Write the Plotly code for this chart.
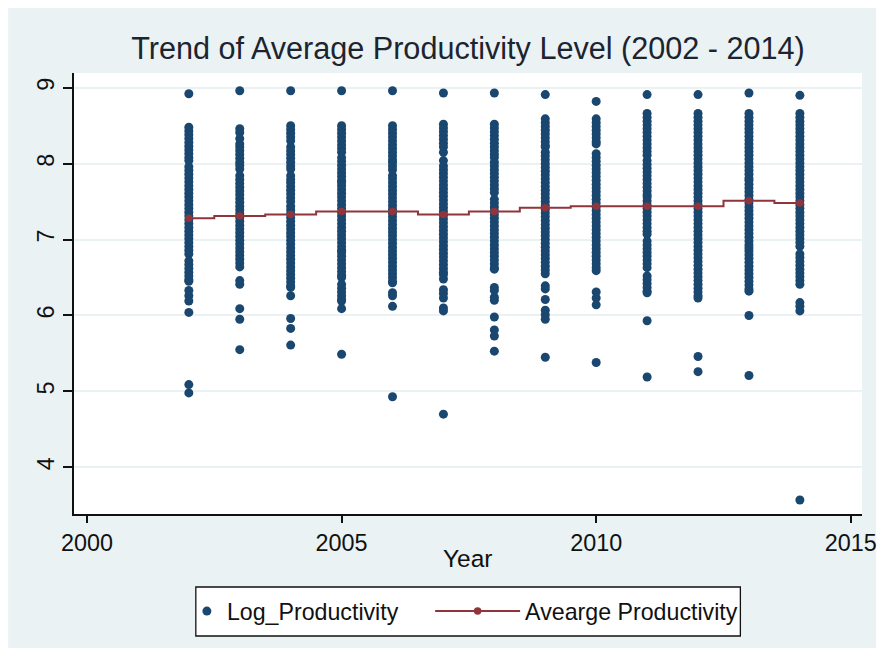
import plotly.graph_objects as go

years = [2002, 2003, 2004, 2005, 2006, 2007, 2008, 2009, 2010, 2011, 2012, 2013, 2014]

prod_2002 = [8.92,
             8.48, 8.43, 8.38, 8.33, 8.28, 8.23, 8.18, 8.13, 8.08, 8.04,
             7.96, 7.91, 7.86, 7.81, 7.76, 7.71, 7.66, 7.61, 7.56, 7.51, 7.46, 7.41, 7.36, 7.31,
             7.26, 7.21, 7.16, 7.11, 7.06, 7.01, 6.96, 6.91, 6.86, 6.81,
             6.72, 6.67, 6.62, 6.57, 6.52, 6.47, 6.45,
             6.33, 6.26, 6.19, 6.04, 5.09, 4.98]
prod_2003 = [8.96,
             8.46, 8.41, 8.33, 8.26,
             8.22, 8.17, 8.12, 8.07, 8.02, 7.98, 7.93,
             7.84, 7.79, 7.74, 7.69, 7.64, 7.59, 7.54, 7.49, 7.44, 7.39, 7.34, 7.29, 7.24, 7.19,
             7.14, 7.09, 7.04, 6.99, 6.94, 6.89, 6.84, 6.79, 6.74, 6.69, 6.64,
             6.46, 6.41, 6.09, 5.95, 5.55]
prod_2004 = [8.96,
             8.5, 8.45, 8.4, 8.35, 8.3,
             8.22, 8.17, 8.12, 8.07, 8.02, 7.97, 7.93,
             7.84, 7.79, 7.75,
             7.7, 7.65, 7.6, 7.55, 7.5,
             7.44, 7.39, 7.34, 7.29, 7.24, 7.19, 7.14, 7.09, 7.04, 6.99, 6.94, 6.89, 6.84, 6.79,
             6.74, 6.69, 6.64, 6.59, 6.54, 6.49, 6.44, 6.39, 6.37,
             6.26, 5.96, 5.83, 5.61]
prod_2005 = [8.96,
             8.5, 8.45, 8.4, 8.35, 8.3, 8.25, 8.2, 8.15,
             8.08, 8.03, 7.98, 7.93, 7.88, 7.83, 7.78, 7.75,
             7.71, 7.66, 7.61, 7.56, 7.51, 7.46, 7.41, 7.36, 7.31, 7.26, 7.21, 7.16, 7.11, 7.06,
             7.01, 6.96, 6.91, 6.86, 6.83,
             6.78, 6.73, 6.68, 6.63, 6.58, 6.53, 6.5,
             6.41, 6.36, 6.31, 6.26, 6.21, 6.19,
             6.09, 5.49]
prod_2006 = [8.96,
             8.5, 8.45, 8.4, 8.35, 8.3, 8.25, 8.2, 8.15, 8.1, 8.05, 8.02,
             7.97, 7.92, 7.84, 7.8,
             7.75, 7.7, 7.65, 7.6, 7.55, 7.5, 7.45, 7.4, 7.35, 7.3, 7.25, 7.2, 7.15, 7.1, 7.05,
             7.0, 6.95, 6.9, 6.85, 6.8, 6.75, 6.7, 6.65, 6.6, 6.55, 6.5, 6.45, 6.43,
             6.3, 6.26, 6.12, 4.93]
prod_2007 = [8.93,
             8.52, 8.47, 8.42, 8.37, 8.32, 8.27, 8.22,
             8.15, 8.04,
             7.97, 7.92, 7.87, 7.82, 7.77, 7.72, 7.67, 7.62, 7.57, 7.52, 7.47, 7.42, 7.37, 7.32,
             7.27, 7.22, 7.17, 7.12, 7.07, 7.02, 6.97, 6.92, 6.87, 6.82, 6.77, 6.72, 6.67, 6.62,
             6.57, 6.54,
             6.48, 6.34, 6.29, 6.23, 6.1, 6.06, 4.7]
prod_2008 = [8.93,
             8.52, 8.47, 8.42, 8.37, 8.32, 8.27, 8.22, 8.17, 8.12, 8.08,
             8.02, 7.97, 7.92, 7.87, 7.82, 7.77, 7.72, 7.67, 7.62,
             7.53, 7.48, 7.43, 7.38, 7.33, 7.28, 7.23, 7.18, 7.13, 7.08, 7.03, 6.98, 6.93, 6.88,
             6.83, 6.78, 6.73, 6.68, 6.63, 6.61,
             6.37, 6.33, 6.24, 6.2, 5.98, 5.81, 5.73, 5.53]
prod_2009 = [8.91,
             8.59, 8.54, 8.49, 8.44, 8.39, 8.34, 8.29, 8.24, 8.22,
             8.15, 8.1, 8.05, 8.0, 7.95, 7.9, 7.85, 7.8, 7.75, 7.7, 7.65, 7.6, 7.55, 7.5, 7.45,
             7.4, 7.35, 7.3, 7.25,
             7.2, 7.15, 7.1, 7.05, 7.0, 6.95, 6.9, 6.85, 6.8, 6.75, 6.7, 6.65, 6.6, 6.55,
             6.39, 6.35, 6.21, 6.07, 6.01, 5.95, 5.45]
prod_2010 = [8.82,
             8.59, 8.54, 8.49, 8.44, 8.39, 8.34, 8.29, 8.26,
             8.13, 8.08, 8.03, 7.98, 7.93, 7.88, 7.83, 7.78, 7.73, 7.68, 7.63, 7.58, 7.53, 7.48,
             7.43, 7.38, 7.33, 7.28, 7.23, 7.18, 7.13, 7.08, 7.03, 6.98, 6.93, 6.88, 6.83, 6.78,
             6.73, 6.68, 6.63, 6.59,
             6.31, 6.23, 6.14, 5.38]
prod_2011 = [8.91,
             8.66, 8.61, 8.56, 8.51, 8.46, 8.41, 8.36, 8.31, 8.26, 8.21, 8.16, 8.11,
             8.04, 7.99, 7.94, 7.89, 7.84, 7.79, 7.74, 7.69, 7.64, 7.59, 7.56,
             7.51, 7.46, 7.41, 7.36, 7.31, 7.26, 7.21, 7.16, 7.11, 7.07,
             6.98, 6.93, 6.88, 6.83, 6.78, 6.73, 6.68, 6.63,
             6.52, 6.47, 6.42, 6.37, 6.32, 6.3,
             5.93, 5.19]
prod_2012 = [8.91,
             8.66, 8.61, 8.56, 8.51, 8.46, 8.41, 8.36, 8.31, 8.26, 8.21, 8.16, 8.11, 8.06, 8.01,
             7.96, 7.91, 7.86, 7.81, 7.76, 7.71, 7.66, 7.61, 7.56, 7.51, 7.46, 7.41, 7.36, 7.31,
             7.26, 7.21, 7.16, 7.11, 7.06, 7.01, 6.96, 6.91, 6.86, 6.81, 6.76, 6.71, 6.66, 6.61,
             6.56, 6.51, 6.46, 6.41, 6.36, 6.31, 6.26, 6.23,
             5.46, 5.26]
prod_2013 = [8.93,
             8.66, 8.61, 8.56, 8.51, 8.46, 8.41, 8.36, 8.31, 8.26, 8.21, 8.16, 8.11, 8.06, 8.01,
             7.96, 7.91, 7.86, 7.81, 7.78,
             7.73, 7.68, 7.63, 7.58, 7.53, 7.48, 7.43, 7.38, 7.33, 7.28, 7.23, 7.18, 7.13, 7.08,
             7.03, 6.98, 6.93, 6.89,
             6.85, 6.8, 6.75, 6.7, 6.65, 6.6, 6.55, 6.5, 6.45, 6.4, 6.35, 6.32,
             6.0, 5.21]
prod_2014 = [8.9,
             8.66, 8.61, 8.56, 8.51, 8.46, 8.41, 8.36, 8.31, 8.26, 8.21, 8.16, 8.11, 8.06, 8.01,
             7.96, 7.91, 7.86, 7.81, 7.76, 7.71, 7.66, 7.61, 7.56, 7.51, 7.46, 7.41, 7.36, 7.31,
             7.26, 7.21, 7.16, 7.11, 7.06, 7.01, 6.96, 6.91,
             6.81, 6.76, 6.71, 6.66, 6.61, 6.56, 6.51, 6.46, 6.41,
             6.17, 6.12, 6.06, 3.57]

avg_productivity = [7.28, 7.31, 7.33, 7.37, 7.37, 7.33, 7.37, 7.42, 7.44, 7.44, 7.44, 7.51, 7.48]

x_ticks = [2000, 2005, 2010, 2015]
y_ticks = [4, 5, 6, 7, 8, 9]

per_year = [prod_2002, prod_2003, prod_2004, prod_2005, prod_2006, prod_2007, prod_2008,
            prod_2009, prod_2010, prod_2011, prod_2012, prod_2013, prod_2014]
xs, ys = [], []
for yr, vals in zip(years, per_year):
    xs += [yr] * len(vals)
    ys += vals

NAVY = "#1A476F"
CRAN = "#90353B"
BG = "#EAF2F3"
FONT = "Liberation Sans, Arial"
INK = "#111111"

# figure geometry (px) used to place decorations in paper coordinates
W, H = 881, 640
L, R, T, B = 66.3, 21, 65, 134
PW, PH = W - L - R, H - T - B


def px(xpix):
    return (xpix - L) / PW


def py(ypix):
    return (H - B - ypix) / PH


fig = go.Figure()
fig.add_trace(go.Scatter(x=xs, y=ys, mode="markers", name="Log_Productivity", legend="legend",
                         marker=dict(color=NAVY, size=9, line=dict(width=0))))
fig.add_trace(go.Scatter(x=years, y=avg_productivity, mode="lines+markers", name="Avearge Productivity",
                         legend="legend2",
                         line=dict(color=CRAN, width=2, shape="hvh"),
                         marker=dict(color=CRAN, size=7.5)))

# bluish graph region, white plot region, legend frame
fig.add_shape(type="rect", xref="paper", yref="paper", x0=px(0), x1=px(874), y0=py(640), y1=py(0),
              fillcolor=BG, line=dict(width=0), layer="below")
fig.add_shape(type="rect", xref="paper", yref="paper", x0=0, x1=1, y0=0, y1=1,
              fillcolor="white", line=dict(width=0), layer="below")
fig.add_shape(type="rect", xref="paper", yref="paper", x0=px(189), x1=px(737.5), y0=py(628), y1=py(579),
              fillcolor="white", line=dict(width=1.3, color=INK), layer="below")

fig.add_annotation(text="Year", xref="paper", yref="paper", x=0.5, y=py(550),
                   xanchor="center", yanchor="middle", showarrow=False,
                   font=dict(size=24.5, family=FONT, color=INK))

fig.update_layout(
    width=W, height=H,
    margin=dict(l=L, r=R, t=T, b=B),
    paper_bgcolor="white", plot_bgcolor="white",
    font=dict(family=FONT, color=INK),
    title=dict(text="Trend of Average Productivity Level (2002 - 2014)",
               x=0.5, xref="paper", xanchor="center", y=1 - 40 / H, yanchor="middle",
               font=dict(size=30.6, color="#1c2430", family=FONT)),
    showlegend=True,
    legend=dict(orientation="h", x=px(180), xanchor="left", xref="paper",
                y=py(603.5), yanchor="middle", bgcolor="rgba(0,0,0,0)", borderwidth=0,
                font=dict(size=23.2, family=FONT, color=INK), itemwidth=30),
    legend2=dict(orientation="h", x=px(425), xanchor="left", xref="paper",
                 y=py(603.5), yanchor="middle", bgcolor="rgba(0,0,0,0)", borderwidth=0,
                 font=dict(size=23.2, family=FONT, color=INK), itemwidth=85),
)
fig.update_xaxes(range=[1999.745, 2015.22], tickvals=x_ticks, ticks="outside", ticklen=7,
                 tickwidth=1.5, tickcolor=INK, showline=True, linecolor=INK,
                 linewidth=1.5, showgrid=False, zeroline=False,
                 tickfont=dict(size=23.4, family=FONT, color=INK))
fig.update_yaxes(range=[3.385, 9.194], tickvals=y_ticks, ticks="outside", ticklen=9,
                 tickwidth=1.5, tickcolor=INK, showline=True, linecolor=INK,
                 linewidth=1.5, showgrid=True, gridcolor=BG, gridwidth=1.5, zeroline=False,
                 tickangle=-90,
                 tickfont=dict(size=23.4, family=FONT, color=INK))

fig.write_html("out.html")
